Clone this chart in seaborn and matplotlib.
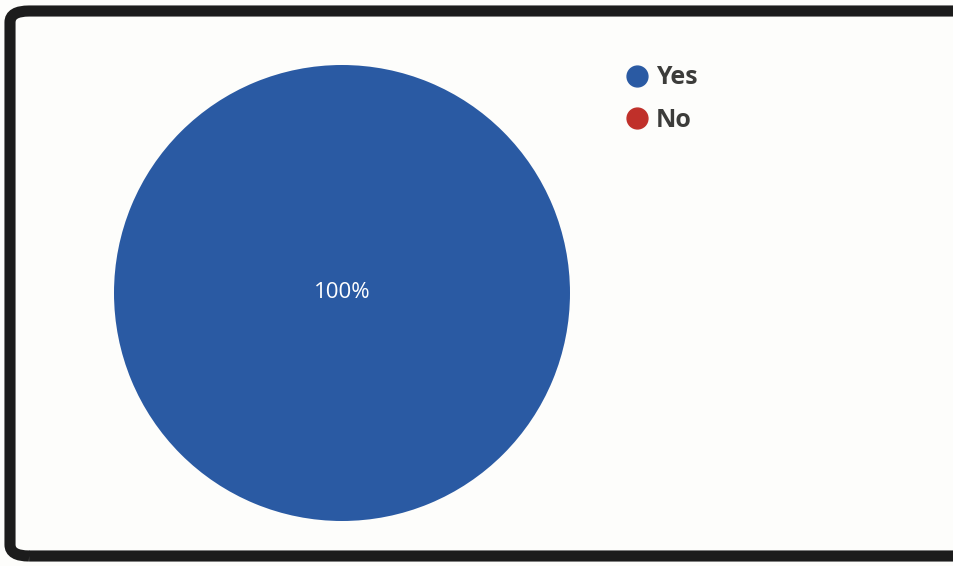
import matplotlib.pyplot as plt
import seaborn as sns
from matplotlib.lines import Line2D
from matplotlib.patches import FancyBboxPatch

answers = ["Yes", "No"]
shares = [100, 0]
colors = ["#2a5aa3", "#c0302a"]

sns.set_theme(style="white")
plt.rcParams['font.family'] = ['Open Sans', 'DejaVu Sans']

fig = plt.figure(figsize=(9.54, 5.66), dpi=100)
fig.patch.set_facecolor("#fdfdfb")

# dark frame around the card (open on the right, like the photo)
frame = FancyBboxPatch((10 / 954, 10 / 566), 1.2, 545 / 566,
                       boxstyle="round,pad=0,rounding_size=0.02",
                       transform=fig.transFigure, fill=False,
                       edgecolor="#1c1c1c", linewidth=8, zorder=5)
fig.patches.append(frame)

ax = fig.add_axes([114 / 954, 45 / 566, 456 / 954, 456 / 566])
wedges, texts, autotexts = ax.pie(
    shares, colors=colors, startangle=90, counterclock=False,
    autopct=lambda p: f"{p:.0f}%" if p > 0 else "", pctdistance=0.0,
    wedgeprops=dict(linewidth=0, edgecolor="none"),
    textprops=dict(color="white", fontsize=16))
ax.set_xlim(-1, 1)
ax.set_ylim(-1, 1)
ax.set_aspect("equal")

handles = [Line2D([0], [0], marker="o", linestyle="", markersize=15,
                  markerfacecolor=c, markeredgecolor=c) for c in colors]
leg = fig.legend(handles, answers, loc="upper left",
                 bbox_to_anchor=(600 / 954, 1 - 43 / 566), frameon=False,
                 handletextpad=0.15, labelspacing=0.7, handlelength=1.2,
                 prop=dict(size=18, weight="bold"))
for t in leg.get_texts():
    t.set_color("#3c3c3a")

fig.savefig("out.png", dpi=100, facecolor=fig.get_facecolor())
